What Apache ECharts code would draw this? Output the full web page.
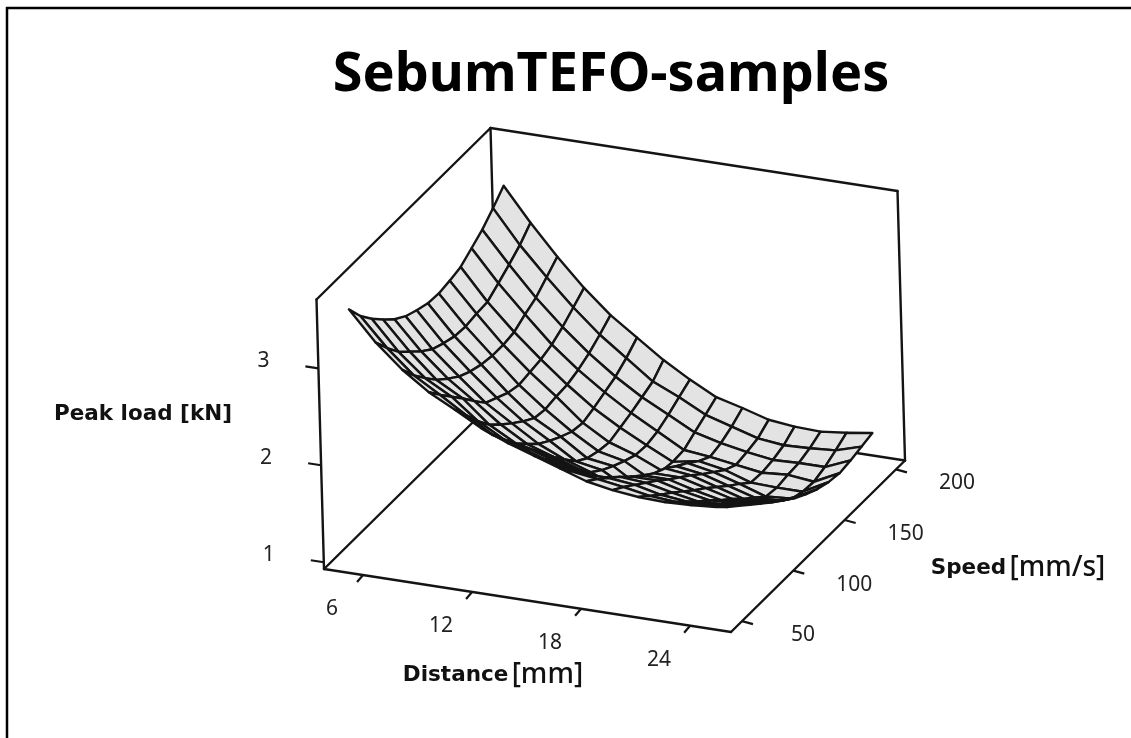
<!DOCTYPE html>
<html><head><meta charset="utf-8">
<style>html,body{margin:0;padding:0;background:#fff}#c{width:1131px;height:738px}</style>
<script src="https://cdn.jsdelivr.net/npm/echarts@6/dist/echarts.min.js"></script>
</head><body><div id="c"></div>
<script>
const titleText = 'SebumTEFO-samples';
const distanceTicks = [6, 12, 18, 24];
const speedTicks = [50, 100, 150, 200];
const loadTicks = [1, 2, 3];
const distanceNodes = [5,6.43,7.86,9.29,10.71,12.14,13.57,15,16.43,17.86,19.29,20.71,22.14,23.57,25];
const speedNodes = [200,189.3,178.6,167.9,157.1,146.4,135.7,125,114.3,103.6,92.9,82.1,71.4,60.7,50];
const load00 = [3.24,2.90,2.59,2.31,2.07,1.88,1.69,1.53,1.39,1.32,1.24,1.21,1.20,1.23,1.27];
const load01 = [3.12,2.78,2.49,2.22,1.98,1.78,1.58,1.46,1.32,1.24,1.16,1.13,1.14,1.16,1.24];
const load02 = [3.01,2.69,2.39,2.13,1.90,1.70,1.53,1.39,1.25,1.18,1.13,1.09,1.10,1.10,1.21];
const load03 = [2.93,2.61,2.33,2.06,1.84,1.65,1.48,1.33,1.18,1.15,1.11,1.07,1.09,1.06,1.19];
const load04 = [2.85,2.53,2.26,2.02,1.80,1.60,1.44,1.30,1.17,1.22,1.17,1.08,1.07,1.07,1.21];
const load05 = [2.82,2.52,2.24,2.00,1.79,1.56,1.40,1.31,1.19,1.31,1.26,1.18,1.09,1.11,1.25];
const load06 = [2.80,2.50,2.24,1.98,1.77,1.58,1.42,1.36,1.21,1.39,1.35,1.27,1.19,1.20,1.31];
const load07 = [2.81,2.51,2.26,2.01,1.79,1.64,1.46,1.42,1.25,1.48,1.45,1.37,1.29,1.30,1.38];
const load08 = [2.85,2.55,2.30,2.07,1.87,1.71,1.54,1.49,1.34,1.54,1.54,1.47,1.40,1.41,1.47];
const load09 = [2.90,2.60,2.36,2.13,1.96,1.79,1.67,1.58,1.47,1.63,1.63,1.56,1.50,1.51,1.56];
const load10 = [2.98,2.69,2.45,2.26,2.06,1.90,1.81,1.72,1.63,1.73,1.73,1.66,1.61,1.62,1.66];
const load11 = [3.09,2.80,2.55,2.40,2.17,2.02,1.96,1.87,1.79,1.84,1.82,1.76,1.71,1.72,1.76];
const load12 = [3.21,2.91,2.68,2.53,2.32,2.17,2.11,2.02,1.94,1.94,1.91,1.85,1.82,1.83,1.86];
const load13 = [3.35,3.06,2.82,2.66,2.49,2.33,2.25,2.16,2.08,2.04,2.00,1.95,1.93,1.94,1.96];
const load14 = [3.53,3.23,2.99,2.80,2.66,2.51,2.40,2.31,2.22,2.13,2.08,2.05,2.04,2.05,2.07];
const loadRows = [load00,load01,load02,load03,load04,load05,load06,load07,load08,load09,load10,load11,load12,load13,load14];

// axis extents of the box
const dMin = 3.85, dMax = 26.25, sMin = 39.3, sMax = 208.8, zMin = 0.93, zMax = 3.71;

// oblique projection of (distance, speed, load) onto the drawing plane
function project(d, s, z) {
  const u = (d - dMin) / (dMax - dMin), t = (s - sMin) / (sMax - sMin), w = (z - zMin) / (zMax - zMin);
  return [324 + 407 * u + 174 * t - 7.5 * w, 569 + 63 * u - 171.5 * t - 269.5 * w];
}
const INK = '#141414';
const boxEdges = [
  [[dMin,sMin,zMin],[dMin,sMin,zMax]],
  [[dMin,sMin,zMax],[dMin,sMax,zMax]],
  [[dMin,sMax,zMax],[dMax,sMax,zMax]],
  [[dMax,sMax,zMax],[dMax,sMax,zMin]],
  [[dMin,sMax,zMax],[dMin,sMax,zMin]],
  [[dMin,sMin,zMin],[dMin,sMax,zMin]],
  [[dMin,sMax,zMin],[dMax,sMax,zMin]],
  [[dMin,sMin,zMin],[dMax,sMin,zMin]],
  [[dMax,sMin,zMin],[dMax,sMax,zMin]]
];
const cells = [];
for (let i = 0; i < speedNodes.length - 1; i++)
  for (let j = 0; j < distanceNodes.length - 1; j++) cells.push([j, i]);

const tickFont = { fontFamily: 'Noto Sans', fontSize: 21, fill: '#222', align: 'center', verticalAlign: 'middle' };
function tickSeries(name, values, toPoint, tickDx, tickDy, labDx, labDy) {
  return {
    type: 'custom', name, coordinateSystem: 'cartesian2d', clip: false, z: 5, silent: true,
    data: values.map(v => [v]),
    renderItem(p, api) {
      const v = api.value(0);
      const a = api.coord(toPoint(v));
      return { type: 'group', children: [
        { type: 'line', shape: { x1: a[0], y1: a[1], x2: a[0] + tickDx, y2: a[1] + tickDy }, style: { stroke: INK, lineWidth: 2.2 } },
        { type: 'text', x: a[0] + labDx, y: a[1] + labDy, style: Object.assign({ text: String(v) }, tickFont) }
      ]};
    }
  };
}
const richAxis = {
  b: { fontFamily: 'DejaVu Sans', fontWeight: 'bold', fontSize: 21.5, fill: '#111' },
  n: { fontFamily: 'Noto Sans', fontWeight: '500', fontSize: 28, fill: '#111' }
};
const option = {
  animation: false,
  backgroundColor: '#fff',
  grid: { left: 0, top: 0, width: 1131, height: 738, show: false },
  xAxis: { type: 'value', min: 0, max: 1131, show: false },
  yAxis: { type: 'value', min: 0, max: 738, inverse: true, show: false },
  graphic: [
    { type: 'line', z: 0, shape: { x1: 6, y1: 8, x2: 1131, y2: 8 }, style: { stroke: '#000', lineWidth: 2.5 } },
    { type: 'line', z: 0, shape: { x1: 7, y1: 7, x2: 7, y2: 738 }, style: { stroke: '#000', lineWidth: 2.5 } },
    { type: 'text', z: 10, x: 611, y: 76, style: { text: titleText, fontFamily: 'Noto Sans', fontWeight: 'bold', fontSize: 54, fill: '#000', align: 'center', verticalAlign: 'middle' } },
    { type: 'text', z: 10, x: 143, y: 414, style: { text: 'Peak load [kN]', fontFamily: 'DejaVu Sans', fontWeight: 'bold', fontSize: 21.5, fill: '#111', align: 'center', verticalAlign: 'middle' } },
    { type: 'text', z: 10, x: 493, y: 675, style: { text: '{b|Distance} {n|[mm]}', align: 'center', verticalAlign: 'middle', rich: richAxis } },
    { type: 'text', z: 10, x: 1018, y: 568, style: { text: '{b|Speed} {n|[mm/s]}', align: 'center', verticalAlign: 'middle', rich: richAxis } }
  ],
  series: [
    { type: 'custom', name: 'box', coordinateSystem: 'cartesian2d', clip: false, z: 1, silent: true,
      data: boxEdges.map((e, k) => [k]),
      renderItem(p, api) {
        const e = boxEdges[api.value(0)];
        const a = api.coord(project(...e[0])), b = api.coord(project(...e[1]));
        return { type: 'line', shape: { x1: a[0], y1: a[1], x2: b[0], y2: b[1] }, style: { stroke: INK, lineWidth: 2.4, lineCap: 'round' } };
      } },
    { type: 'custom', name: 'Peak load surface', coordinateSystem: 'cartesian2d', clip: false, z: 2, silent: true,
      data: cells,
      renderItem(p, api) {
        const j = api.value(0), i = api.value(1);
        const pt = (jj, ii) => api.coord(project(distanceNodes[jj], speedNodes[ii], loadRows[ii][jj]));
        return { type: 'polygon', shape: { points: [pt(j,i), pt(j+1,i), pt(j+1,i+1), pt(j,i+1)] },
          style: { fill: '#e3e3e3', stroke: INK, lineWidth: 2.4, lineJoin: 'round' } };
      } },
    tickSeries('load ticks', loadTicks, v => project(dMin, sMin, v), -13, -2, -55, -7),
    tickSeries('distance ticks', distanceTicks, v => project(v, sMin, zMin), -6, 7, -31, 34),
    tickSeries('speed ticks', speedTicks, v => project(dMax, v, zMin), 11, 3, 61, 14)
  ]
};
echarts.init(document.getElementById('c'), null, { renderer: 'canvas' }).setOption(option);
</script></body></html>
